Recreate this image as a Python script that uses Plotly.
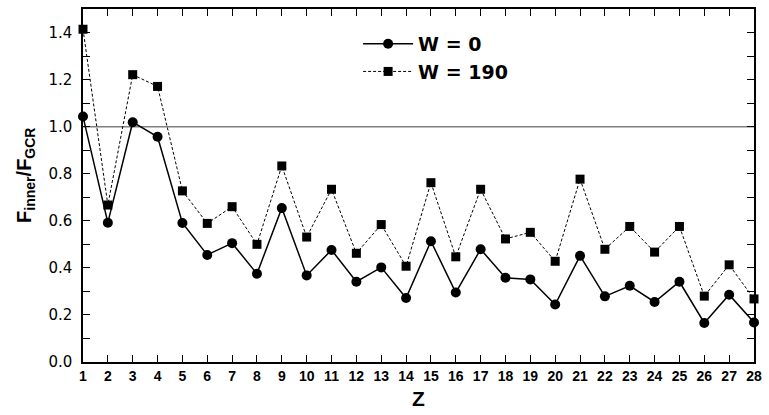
import plotly.graph_objects as go

z = list(range(1, 29))
w0 = [1.043, 0.592, 1.019, 0.957, 0.591, 0.455, 0.505, 0.375, 0.654, 0.368,
      0.476, 0.341, 0.402, 0.272, 0.513, 0.295, 0.479, 0.358, 0.351, 0.244,
      0.451, 0.279, 0.324, 0.255, 0.341, 0.166, 0.286, 0.168]
w190 = [1.414, 0.667, 1.221, 1.171, 0.727, 0.589, 0.660, 0.500, 0.833, 0.531,
        0.734, 0.462, 0.584, 0.407, 0.762, 0.447, 0.734, 0.523, 0.551, 0.428,
        0.777, 0.479, 0.576, 0.467, 0.576, 0.280, 0.413, 0.268]
y_ticks = [0.0, 0.2, 0.4, 0.6, 0.8, 1.0, 1.2, 1.4]
y_labels = ["0.0", "0.2", "0.4", "0.6", "0.8", "1.0", "1.2", "1.4"]
ref_level = 1.0

FONT = "Liberation Sans, Arial, sans-serif"
WIDE = "DejaVu Sans, sans-serif"

fig = go.Figure()
fig.add_hline(y=ref_level, line=dict(color="#808080", width=1.5), layer="below")
fig.add_trace(go.Scatter(
    x=z, y=w0, mode="lines+markers", name="<b>W = 0</b>",
    line=dict(color="black", width=1.5),
    marker=dict(symbol="circle", size=10, color="black"),
    cliponaxis=False,
))
fig.add_trace(go.Scatter(
    x=z, y=w190, mode="lines+markers", name="<b>W = 190</b>",
    line=dict(color="black", width=1, dash="3px,2px"),
    marker=dict(symbol="square", size=9, color="black"),
    cliponaxis=False,
))

fig.add_annotation(
    text="<b>F<sub>inner</sub>/F<sub>GCR</sub></b>",
    xref="paper", yref="paper", x=-0.085, y=0.53,
    xanchor="center", yanchor="middle", textangle=-90, showarrow=False,
    font=dict(family=FONT, size=20, color="black"),
)

fig.update_layout(
    width=769, height=415,
    margin=dict(l=83, r=9, t=7, b=53),
    paper_bgcolor="white", plot_bgcolor="white",
    font=dict(family=FONT, color="black"),
    showlegend=True,
    legend=dict(
        x=0.41, y=0.955, xanchor="left", yanchor="top",
        bgcolor="rgba(0,0,0,0)", borderwidth=0,
        font=dict(family=WIDE, size=19, color="black"),
        itemwidth=50, tracegroupgap=0,
    ),
    xaxis=dict(
        range=[1, 28], tickmode="array", tickvals=z,
        ticktext=[f"<b>{v}</b>" for v in z],
        ticks="inside", ticklen=7, tickwidth=1.2, tickcolor="black",
        showline=True, linecolor="black", linewidth=1.5, mirror="ticks",
        showgrid=False, zeroline=False,
        tickfont=dict(family=FONT, size=14, color="black"),
        title=dict(text="<b>Z</b>", font=dict(family=FONT, size=21), standoff=9),
    ),
    yaxis=dict(
        range=[0, 1.5], tickmode="array", tickvals=y_ticks, ticktext=y_labels,
        ticks="inside", ticklen=7, tickwidth=1.2, tickcolor="black",
        minor=dict(ticks="inside", dtick=0.1, ticklen=7, tickwidth=1.2, tickcolor="black"),
        showline=True, linecolor="black", linewidth=1.5, mirror="ticks",
        showgrid=False, zeroline=False,
        tickfont=dict(family=WIDE, size=15, color="black"),
        ticklabelstandoff=6,
    ),
)

fig.write_html("out.html")
